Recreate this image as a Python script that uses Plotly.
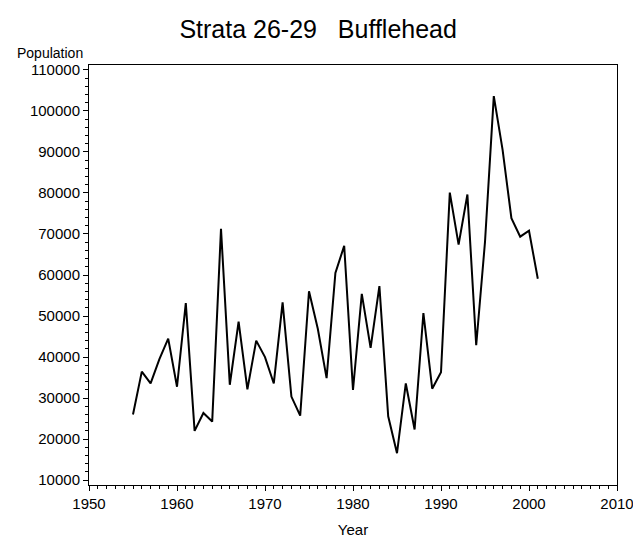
import plotly.graph_objects as go

years = list(range(1955, 2002))
population = [26000, 36450, 33560, 39500, 44480, 32760, 53140, 22010, 26350, 24260,
              71270, 33240, 48640, 32130, 44000, 39980, 33560, 53310, 30350, 25700,
              56030, 46880, 34850, 60530, 67100, 31960, 55380, 42240, 57310, 25540,
              16560, 33560, 22330, 50730, 32280, 36300, 80100, 67420, 79620, 42870,
              68060, 103600, 90500, 73840, 69340, 70780, 59080]

x_ticks = [1950, 1960, 1970, 1980, 1990, 2000, 2010]
y_ticks = [10000, 20000, 30000, 40000, 50000, 60000, 70000, 80000, 90000, 100000, 110000]

FONT = "Liberation Sans, Arial, sans-serif"

fig = go.Figure()
fig.add_trace(go.Scatter(x=years, y=population, mode="lines",
                         line=dict(color="black", width=2), showlegend=False))

axis_common = dict(showline=True, linecolor="black", linewidth=1, mirror=True,
                   showgrid=False, zeroline=False, ticks="outside", ticklen=5,
                   tickcolor="black", tickwidth=1,
                   tickfont=dict(family=FONT, size=15, color="black"))

fig.update_xaxes(range=[1950, 2010], tickvals=x_ticks,
                 minor=dict(dtick=1, ticks="outside", ticklen=3, tickcolor="black"),
                 title=dict(text="Year", font=dict(family=FONT, size=15, color="black"), standoff=13),
                 **axis_common)
fig.update_yaxes(range=[8800, 111200], tickvals=y_ticks, tickformat="d",
                 minor=dict(dtick=2000, ticks="outside", ticklen=3, tickcolor="black"),
                 **axis_common)

fig.update_layout(
    width=641, height=540,
    margin=dict(l=81, r=32, t=57, b=57),
    paper_bgcolor="white", plot_bgcolor="white",
    title=dict(text="Strata 26-29\u00a0\u00a0\u00a0Bufflehead",
               font=dict(family=FONT, size=25, color="black"),
               x=0.434, xanchor="center", xref="paper",
               y=1 - 21 / 540, yanchor="middle", yref="container"),
    annotations=[dict(text="Population", xref="paper", yref="paper",
                      x=-0.008, y=1 + 12.5 / 425.4, xanchor="right", yanchor="middle",
                      showarrow=False, font=dict(family=FONT, size=14, color="black"))],
)

fig.write_html("out.html")
